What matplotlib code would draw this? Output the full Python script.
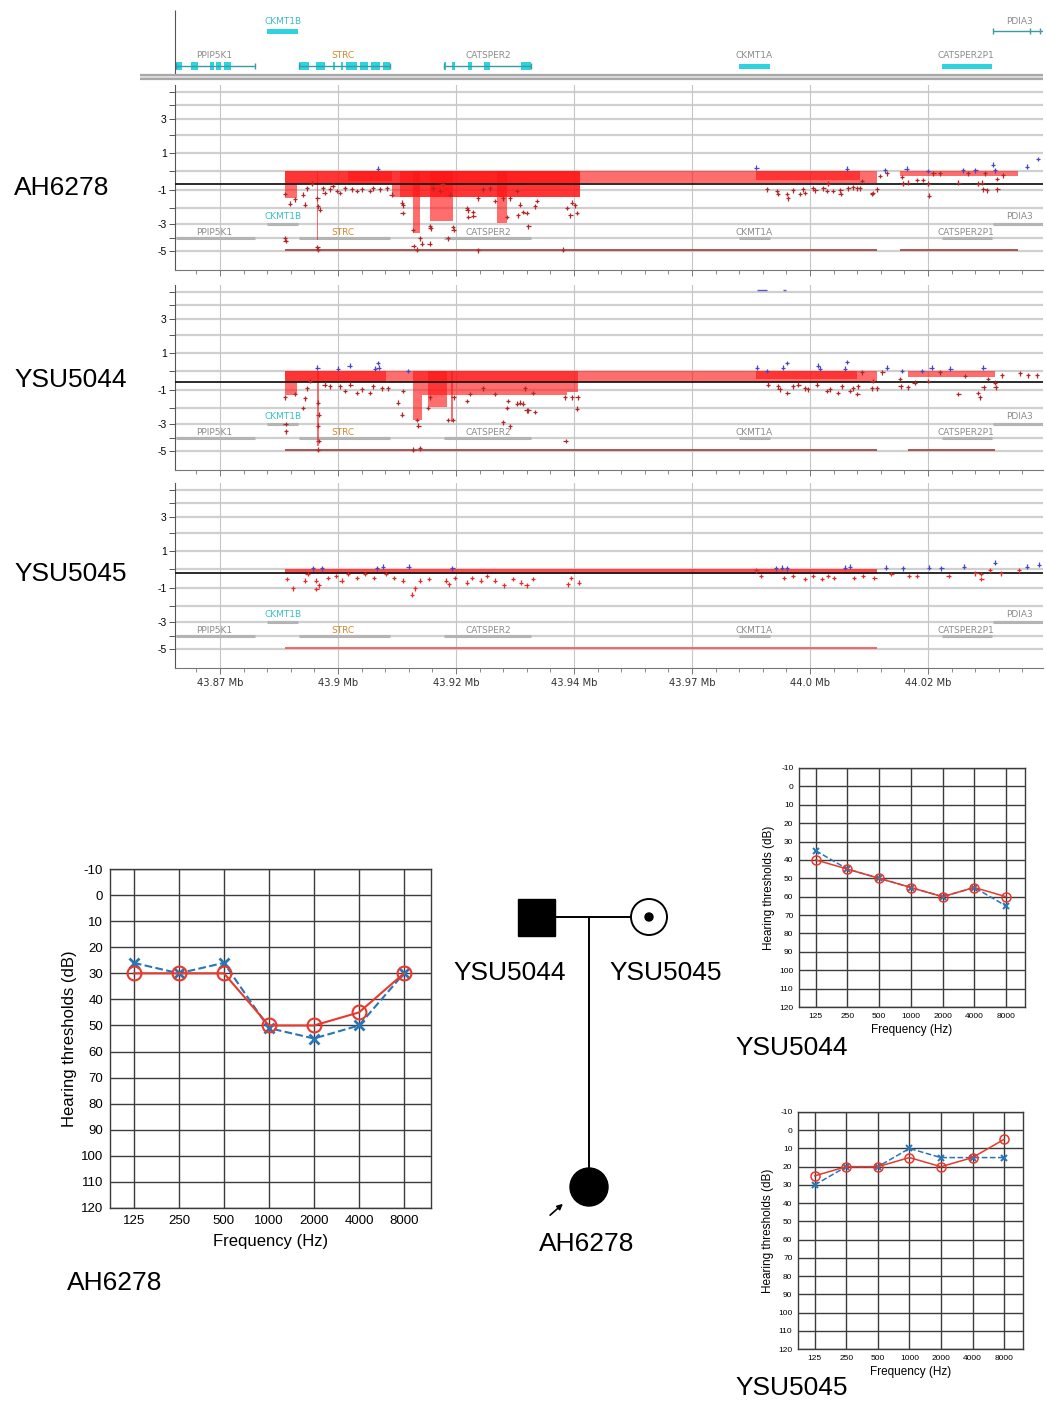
import numpy as np
import matplotlib
matplotlib.use('Agg')
import matplotlib.pyplot as plt
from matplotlib.patches import Rectangle, Circle

plt.rcParams['font.family'] = ['Liberation Sans', 'DejaVu Sans']
plt.rcParams['axes.unicode_minus'] = False

W, H = 1046, 1403

# ---------------- genome view data (positions in Mb) ----------------
X0, X1 = 43.86047, 44.04436
tick_pos = [43.870, 43.895, 43.920, 43.945, 43.970, 43.995, 44.020]
tick_lab = ['43.87 Mb', '43.9 Mb', '43.92 Mb', '43.94 Mb', '43.97 Mb', '44.0 Mb', '44.02 Mb']

gene_names = ['PPIP5K1', 'CKMT1B', 'STRC', 'CATSPER2', 'CKMT1A', 'CATSPER2P1', 'PDIA3']
gene_start = [43.8607, 43.8800, 43.8867, 43.9175, 43.9800, 44.0230, 44.0337]
gene_end = [43.8774, 43.8865, 43.9060, 43.9359, 43.9865, 44.0335, 44.0444]
gene_lab_x = [43.8687, 43.8833, 43.8961, 43.9268, 43.9831, 44.0281, 44.0393]
gene_row = [1, 0, 1, 1, 1, 1, 0]
gene_col = ['#8c8c8c', '#3bbfc6', '#d1892e', '#8c8c8c', '#8c8c8c', '#8c8c8c', '#8c8c8c']
exons = {
    'PPIP5K1': [(43.8607, 43.8620), (43.8639, 43.8653), (43.8679, 43.8687),
                (43.8692, 43.8702), (43.8708, 43.8723)],
    'STRC': [(43.8867, 43.8889), (43.8903, 43.8922), (43.8939, 43.8944), (43.8956, 43.8961),
             (43.8967, 43.8990), (43.8997, 43.9014), (43.9020, 43.9039), (43.9045, 43.9060)],
    'CATSPER2': [(43.9175, 43.9179), (43.9192, 43.9198), (43.9225, 43.9234),
                 (43.9259, 43.9272), (43.9338, 43.9359)],
}
pdia3_ticks = [44.0338, 44.0416, 44.0437]

# CNV segments: start, end, log ratio
p1_seg_s = [43.8838, 43.8838, 43.8863, 43.8971, 43.9064, 43.9081, 43.9109, 43.9145, 43.9287, 43.8905, 43.9836, 44.0141]
p1_seg_e = [44.0092, 43.8863, 43.9064, 43.9064, 43.9463, 43.9463, 43.9124, 43.9194, 43.9308, 43.8908, 44.0056, 44.0391]
p1_seg_v = [-0.62, -1.43, -0.66, -0.5, -1.35, -1.35, -3.6, -2.8, -2.95, -4.12, -0.45, -0.24]

p2_seg_s = [43.8838, 43.8838, 43.8863, 43.9109, 43.9128, 43.9141, 43.9435, 43.8905, 43.9190, 43.9836, 44.0158]
p2_seg_e = [44.0092, 43.8863, 43.9052, 43.9128, 43.9435, 43.9181, 43.9458, 43.8909, 43.9194, 44.0050, 44.0342]
p2_seg_v = [-0.54, -1.26, -0.57, -2.77, -1.26, -1.94, -1.1, -4.6, -2.9, -0.4, -0.31]

p3_seg_s = [43.8838]
p3_seg_e = [44.0092]
p3_seg_v = [-0.25]

baselines = [-0.66, -0.57, -0.2]

# lower track at -5
p1_low_s = [43.8838, 44.0141]
p1_low_e = [44.0092, 44.0391]
p2_low_s = [43.8838, 44.0158]
p2_low_e = [44.0092, 44.0342]
p3_low_s = [43.8838]
p3_low_e = [44.0092]

# probe log ratios
p1_x = [43.8838, 43.8848, 43.8859, 43.8876, 43.8880, 43.8884, 43.8895, 43.8906, 43.8908, 43.8912,
        43.8918, 43.8922, 43.8933, 43.8939, 43.8948, 43.8954, 43.8965, 43.8980, 43.8990, 43.9001,
        43.9018, 43.9024, 43.9035, 43.9039, 43.9054, 43.9064, 43.8838, 43.8839, 43.8906, 43.8908,
        43.9086, 43.9088, 43.9087, 43.9109, 43.9124, 43.9110, 43.9117, 43.9128, 43.9145, 43.9146,
        43.9151, 43.9166, 43.9172, 43.9187, 43.9194, 43.9195, 43.9183, 43.9144, 43.9223, 43.9225,
        43.9236, 43.9237, 43.9226, 43.9247, 43.9257, 43.9272, 43.9283, 43.9300, 43.9308, 43.9314,
        43.9329, 43.9331, 43.9336, 43.9342, 43.9350, 43.9353, 43.9367, 43.9372, 43.9435, 43.9442,
        43.9446, 43.9452, 43.9456, 43.9427, 43.9247,
        43.9836, 43.9859, 43.9880, 43.9882, 43.9901, 43.9903, 43.9914, 43.9929, 43.9935, 43.9939,
        43.9956, 43.9961, 43.9978, 43.9986, 43.9988, 43.9999, 44.0014, 44.0015, 44.0028, 44.0031,
        44.0041, 44.0050, 44.0056, 44.0060, 44.0081, 44.0083, 44.0092, 44.0098, 44.0109, 44.0113,
        44.0145, 44.0146, 44.0155, 44.0158, 44.0177, 44.0189, 44.0200, 44.0201, 44.0202, 44.0211,
        44.0225, 44.0264, 44.0274, 44.0285, 44.0300, 44.0306, 44.0314, 44.0317, 44.0321, 44.0325,
        44.0338, 44.0342, 44.0346, 44.0347, 44.0359, 44.0410, 44.0433]
p1_y = [-1.2, -1.75, -1.5, -1.25, -1.8, -0.9, -0.65, -1.45, -1.9, -2.1,
        -0.9, -1.15, -0.95, -0.75, -1.05, -1.15, -0.9, -0.95, -1.05, -0.95,
        -1.05, -0.9, 0.15, -0.95, -0.9, -1.25, -4.0, -4.2, -4.7, -4.9,
        -1.7, -1.85, -2.3, -3.4, -4.0, -4.6, -4.9, -4.4, -3.15, -3.3,
        -0.9, -1.05, -0.65, -1.25, -3.2, -3.4, -4.0, -4.4, -2.0, -2.15,
        -2.25, -2.5, -2.55, -1.45, -0.95, -0.9, -1.6, -1.45, -2.55, -1.45,
        -1.05, -2.45, -1.8, -2.25, -2.3, -3.15, -1.9, -1.6, -2.0, -2.45,
        -1.7, -1.85, -2.3, -4.9, -4.95,
        0.2, -0.95, -1.05, -1.2, -1.2, -1.45, -1.0, -1.2, -0.95, -1.15,
        -0.9, -1.0, -0.9, -1.05, -0.65, -1.05, -1.0, -1.2, 0.15, -0.9,
        -0.85, -0.9, -0.9, -0.5, -1.2, -1.15, -0.95, -0.25, 0.05, -0.1,
        -0.3, -0.65, 0.15, -0.6, -0.45, -0.45, 0.02, -0.65, -1.3, -0.1,
        -0.1, -0.6, 0.05, -0.1, 0.05, -0.65, -0.6, -0.95, -0.1, -1.0,
        0.35, 0.05, -0.4, -0.95, -0.2, 0.25, 0.65]

p2_x = [43.8838, 43.8839, 43.8840, 43.8859, 43.8876, 43.8880, 43.8884, 43.8891, 43.8906, 43.8908,
        43.8909, 43.8908, 43.8909, 43.8908, 43.8922, 43.8933, 43.8950, 43.8954, 43.8965, 43.8975,
        43.8976, 43.8990, 43.9001, 43.9018, 43.9024, 43.9028, 43.9035, 43.9036, 43.9043, 43.9056,
        43.9077, 43.9086, 43.9088, 43.9098, 43.9117, 43.9120, 43.9109, 43.9124, 43.9141, 43.9145,
        43.9183, 43.9194, 43.9195, 43.9223, 43.9230, 43.9257, 43.9283, 43.9308, 43.9310, 43.9300,
        43.9314, 43.9329, 43.9336, 43.9342, 43.9350, 43.9353, 43.9367, 43.9346, 43.9363, 43.9431,
        43.9432, 43.9446, 43.9456, 43.9458,
        43.9838, 43.9859, 43.9893, 43.9901, 43.9861, 43.9882, 43.9886, 43.9902, 43.9914, 43.9925,
        43.9939, 43.9946, 43.9967, 43.9971, 43.9965, 43.9986, 43.9992, 44.0009, 44.0018, 44.0024,
        44.0028, 44.0035, 44.0041, 44.0050, 44.0052, 44.0060, 44.0081, 44.0083, 44.0092, 44.0103,
        44.0113, 44.0145, 44.0141, 44.0142, 44.0158, 44.0172, 44.0187, 44.0200, 44.0208, 44.0225,
        44.0247, 44.0264, 44.0278, 44.0306, 44.0310, 44.0317, 44.0318, 44.0327, 44.0342, 44.0343,
        44.0357, 44.0395, 44.0412, 44.0431]
p2_y = [-1.4, -3.0, -3.5, -1.2, -2.0, -1.45, -0.9, -0.5, 0.2, -1.7,
        -2.4, -3.1, -4.2, -4.9, -0.7, -0.8, 0.15, -0.8, -1.05, 0.3,
        -0.7, -1.15, -0.95, -1.15, -0.8, 0.15, 0.45, 0.2, -0.9, -0.9,
        -1.7, -2.4, -1.05, 0.02, -2.75, -3.1, -4.9, -4.8, -2.0, -1.4,
        -2.75, -2.75, -1.4, -1.6, -1.2, -0.9, -1.2, -2.0, -1.6, -2.9,
        -3.15, -1.75, -1.7, -1.75, -2.15, -2.15, -2.25, -0.9, -1.15, -1.4,
        -4.2, -1.4, -2.05, -1.4,
        0.2, 0.02, 0.2, 0.45, -0.7, -0.8, -0.95, -1.15, -0.8, -0.7,
        -0.9, -0.95, 0.3, 0.15, -0.7, -1.05, -0.95, -1.15, -0.8, 0.15,
        0.5, -1.05, -0.9, -1.2, -0.8, -0.05, -0.9, -0.5, -0.9, -0.05,
        0.2, 0.02, -0.4, -0.8, -0.85, -0.6, 0.02, -0.5, 0.2, -0.05,
        0.15, -1.2, -0.25, -1.15, -1.4, 0.2, -0.85, -0.4, -0.6, -0.85,
        -0.2, -0.1, -0.2, -0.2]

p3_x = [43.8842, 43.8855, 43.8880, 43.8886, 43.8897, 43.8903, 43.8904, 43.8910, 43.8916, 43.8929,
        43.8946, 43.8958, 43.8971, 43.8990, 43.9007, 43.9026, 43.9033, 43.9045, 43.9052, 43.9069,
        43.9088, 43.9100, 43.9107, 43.9113, 43.9124, 43.9143, 43.9179, 43.9185, 43.9192, 43.9198,
        43.9223, 43.9234, 43.9253, 43.9266, 43.9283, 43.9302, 43.9321, 43.9338, 43.9350, 43.9363,
        43.9437, 43.9444, 43.9461,
        43.9836, 43.9846, 43.9878, 43.9891, 43.9901, 43.9895, 43.9914, 43.9939, 43.9956, 43.9975,
        43.9988, 44.0001, 44.0024, 44.0035, 44.0043, 44.0062, 44.0086, 44.0111, 44.0122, 44.0147,
        44.0160, 44.0177, 44.0202, 44.0228, 44.0244, 44.0276, 44.0300, 44.0312, 44.0313, 44.0342,
        44.0331, 44.0355, 44.0393, 44.0410, 44.0435]
p3_y = [-0.5, -1.0, -0.6, -0.25, 0.05, -0.6, -1.05, -0.85, 0.05, -0.45,
        -0.35, -0.6, -0.25, -0.45, -0.25, -0.45, 0.05, 0.15, -0.25, -0.45,
        -0.6, 0.15, -1.35, -1.0, -0.6, -0.5, -0.6, -0.8, 0.05, -0.45,
        -0.7, -0.45, -0.6, -0.35, -0.6, -0.85, -0.5, -0.7, -0.85, -0.5,
        -0.8, -0.45, -0.7,
        -0.05, -0.35, 0.05, 0.1, 0.05, -0.45, -0.35, -0.5, -0.35, -0.5,
        -0.35, -0.45, 0.1, 0.15, -0.45, -0.35, -0.45, 0.1, -0.25, 0.05,
        -0.35, -0.35, 0.1, 0.05, -0.35, 0.15, -0.2, -0.25, -0.5, 0.35,
        -0.05, -0.2, -0.05, 0.15, 0.25]

p2_blue_s = [43.9838, 43.9893]
p2_blue_e = [43.9859, 43.9899]

# ---------------- audiogram data ----------------
freqs = ['125', '250', '500', '1000', '2000', '4000', '8000']
ah_red = [30, 30, 30, 50, 50, 45, 30]
ah_blue = [26, 30, 26, 51, 55, 50, 30]
y44_red = [40, 45, 50, 55, 60, 55, 60]
y44_blue = [35, 45, 50, 55, 60, 55, 65]
y45_red = [25, 20, 20, 15, 20, 15, 5]
y45_blue = [30, 20, 20, 10, 15, 15, 15]

fig = plt.figure(figsize=(W / 100, H / 100), dpi=100)


def px_rect(l, t, r, b):
    return [l / W, 1 - b / H, (r - l) / W, (b - t) / H]


def ftext(x, y, s, **kw):
    fig.text(x / W, 1 - y / H, s, **kw)


# ---------------- gene track ----------------
ag = fig.add_axes(px_rect(140, 8, 1043, 84))
ag.set_xlim(43.85305, X1)
ag.set_ylim(84, 8)
ag.axis('off')
row_bar = [31, 66]
row_lab = [21, 56]
cyan = '#2ed3df'
for name, s, e, lx, r, c in zip(gene_names, gene_start, gene_end, gene_lab_x, gene_row, gene_col):
    yb = row_bar[r]
    ag.text(lx, row_lab[r], name, color=c, fontsize=6.5, ha='center', va='center',
            family='DejaVu Sans')
    if name in exons:
        ag.hlines(yb, s, e, color='#3c9aa2', lw=1)
        ag.vlines([s, e], yb - 3, yb + 3, color='#3c9aa2', lw=1)
        es = np.array([a for a, b in exons[name]])
        ee = np.array([b for a, b in exons[name]])
        ag.bar(es, 8, width=ee - es, bottom=yb - 4, align='edge', color=cyan, lw=0)
    elif name == 'PDIA3':
        ag.hlines(yb, s, e, color='#3c9aa2', lw=1)
        ag.vlines(pdia3_ticks, yb - 3, yb + 3, color='#3c9aa2', lw=1)
    else:
        ag.bar(s, 5, width=e - s, bottom=yb - 2.5, align='edge', color=cyan, lw=0)
ag.vlines(X0, 10, 75, color='#555555', lw=0.8)
ag.axhline(74.5, color='#a8a8a8', lw=1.6)
ag.axhline(76.8, color='#dcdcdc', lw=1.4)
ag.axhline(79, color='#a8a8a8', lw=1.6)


# ---------------- CNV panels ----------------
def cnv_panel(top, seg_s, seg_e, seg_v, px, py, base, low_s, low_e, low_col, pt_col, show_x,
              seg_alpha=0.62):
    ax = fig.add_axes(px_rect(175, top, 1043, top + 185))
    ax.set_yscale('asinh', linear_width=4)
    ax.set_xlim(X0, X1)
    ax.set_ylim(-6.79, 5.61)
    for v in range(-5, 6):
        ax.axhline(v, color='#d0d0d0', lw=1.6, zorder=0)
    for t in tick_pos:
        ax.axvline(t, color='#c6c6c6', lw=0.8, zorder=0)
    # gene annotation rows
    for name, s, e, lx, r, c in zip(gene_names, gene_start, gene_end, gene_lab_x, gene_row, gene_col):
        yl = [-3, -4][r]
        ax.hlines(yl, s, e, color='#b4b4b4', lw=2.2, zorder=1)
        ax.text(lx, [-2.5, -3.55][r], name, color=c, fontsize=6.5, ha='center', va='center',
                family='DejaVu Sans', zorder=1)
    s = np.array(seg_s)
    e = np.array(seg_e)
    ax.bar(s, np.array(seg_v), width=e - s, bottom=0, align='edge', color='#ff1414',
           alpha=seg_alpha, lw=0, zorder=2)
    ax.hlines([-4.9] * len(low_s), low_s, low_e, color=low_col, lw=1.3, zorder=2)
    ax.axhline(base, color='#1a1a1a', lw=1.3, zorder=3)
    py = np.array(py)
    cols = np.where(py > 0, '#4646c8', pt_col)
    ax.scatter(px, py, marker='+', s=11, linewidths=0.9, c=cols, zorder=4)
    for sp in ['top', 'right']:
        ax.spines[sp].set_visible(False)
    ax.spines['left'].set_color('#555555')
    ax.spines['bottom'].set_color('#777777')
    ax.set_yticks([-5, -3, -1, 1, 3], ['-5', '-3', '-1', '1', '3'])
    ax.set_yticks(list(range(-5, 6)), minor=True)
    ax.yaxis.set_minor_formatter(plt.NullFormatter())
    ax.set_xticks(tick_pos, tick_lab if show_x else [''] * len(tick_pos))
    ax.set_xticks(np.arange(43.865, 44.041, 0.005), minor=True)
    ax.tick_params(axis='y', which='both', length=4, width=0.7, color='#555555',
                   labelsize=7.5, pad=2)
    ax.tick_params(axis='x', which='major', length=4, width=0.7, color='#777777',
                   labelsize=7.2, pad=3)
    ax.tick_params(axis='x', which='minor', length=3, width=0.6, color='#777777')
    for lab in ax.get_xticklabels():
        lab.set_family('DejaVu Sans')
        lab.set_color('#333333')
    return ax


cnv_panel(85, p1_seg_s, p1_seg_e, p1_seg_v, p1_x, p1_y, baselines[0],
          p1_low_s, p1_low_e, '#a84848', '#b02828', False)
ax2 = cnv_panel(285, p2_seg_s, p2_seg_e, p2_seg_v, p2_x, p2_y, baselines[1],
                p2_low_s, p2_low_e, '#a84848', '#b02828', False)
ax2.hlines([5.2] * len(p2_blue_s), p2_blue_s, p2_blue_e, color='#5a5ad0', lw=1)
cnv_panel(483, p3_seg_s, p3_seg_e, p3_seg_v, p3_x, p3_y, baselines[2],
          p3_low_s, p3_low_e, '#f06060', '#e82a2a', True, seg_alpha=0.75)

ftext(14, 188, 'AH6278', fontsize=19, va='center')
ftext(14, 380, 'YSU5044', fontsize=19, va='center')
ftext(14, 574, 'YSU5045', fontsize=19, va='center')


# ---------------- audiograms ----------------
def audiogram(rect, red, blue, fs_tick, fs_lab, ms_o, ms_x, lw, lpad, xlpad):
    ax = fig.add_axes(rect)
    x = np.arange(len(freqs))
    ax.plot(x, blue, '--', color='#2676b8', lw=lw, marker='x', ms=ms_x, mew=lw * 1.3, zorder=3)
    ax.plot(x, red, '-', color='#e8392c', lw=lw, marker='o', mfc='none', ms=ms_o, mew=lw, zorder=4)
    ax.set_xlim(-0.53, 6.6)
    ax.set_ylim(120, -10)
    ax.set_yticks(range(-10, 121, 10))
    ax.set_xticks(x, freqs)
    ax.set_axisbelow(True)
    ax.grid(True, color='#3c3c3c', lw=1.0)
    for sp in ax.spines.values():
        sp.set_color('#3c3c3c')
        sp.set_linewidth(1.0)
    ax.tick_params(length=0, labelsize=fs_tick, pad=lpad)
    ax.set_xlabel('Frequency (Hz)', fontsize=fs_lab, labelpad=xlpad)
    ax.set_ylabel('Hearing thresholds (dB)', fontsize=fs_lab, labelpad=3)
    return ax


audiogram(px_rect(110, 869, 431, 1208), ah_red, ah_blue, 9.5, 12, 10, 7.5, 1.5, 5, 5)
audiogram(px_rect(799, 768, 1025, 1007), y44_red, y44_blue, 6, 8.5, 6.5, 5, 1.1, 4, 3)
audiogram(px_rect(798, 1112, 1023, 1349), y45_red, y45_blue, 6, 8.5, 6.5, 5, 1.1, 4, 3)

ftext(67, 1283, 'AH6278', fontsize=19, va='center')
ftext(735, 1048, 'YSU5044', fontsize=19, va='center')
ftext(735, 1388, 'YSU5045', fontsize=19, va='center')

# ---------------- pedigree ----------------
ap = fig.add_axes(px_rect(440, 880, 740, 1265))
ap.set_xlim(440, 740)
ap.set_ylim(1265, 880)
ap.axis('off')
ap.plot([555, 631], [917, 917], color='black', lw=1.4)
ap.plot([589, 589], [917, 1170], color='black', lw=1.4)
ap.add_patch(Rectangle((518, 899), 37, 37, color='black'))
ap.add_patch(Circle((649, 917), 18, facecolor='white', edgecolor='black', lw=1.4))
ap.add_patch(Circle((649, 917), 4, color='black'))
ap.add_patch(Circle((589, 1187), 19, color='black'))
ap.annotate('', xy=(565, 1202), xytext=(548, 1217),
            arrowprops=dict(arrowstyle='-|>', color='black', lw=1.2, mutation_scale=8))
ap.text(510, 973, 'YSU5044', fontsize=19, ha='center', va='center')
ap.text(666, 973, 'YSU5045', fontsize=19, ha='center', va='center')
ap.text(587, 1244, 'AH6278', fontsize=19, ha='center', va='center')

fig.savefig('out.png', dpi=100)
